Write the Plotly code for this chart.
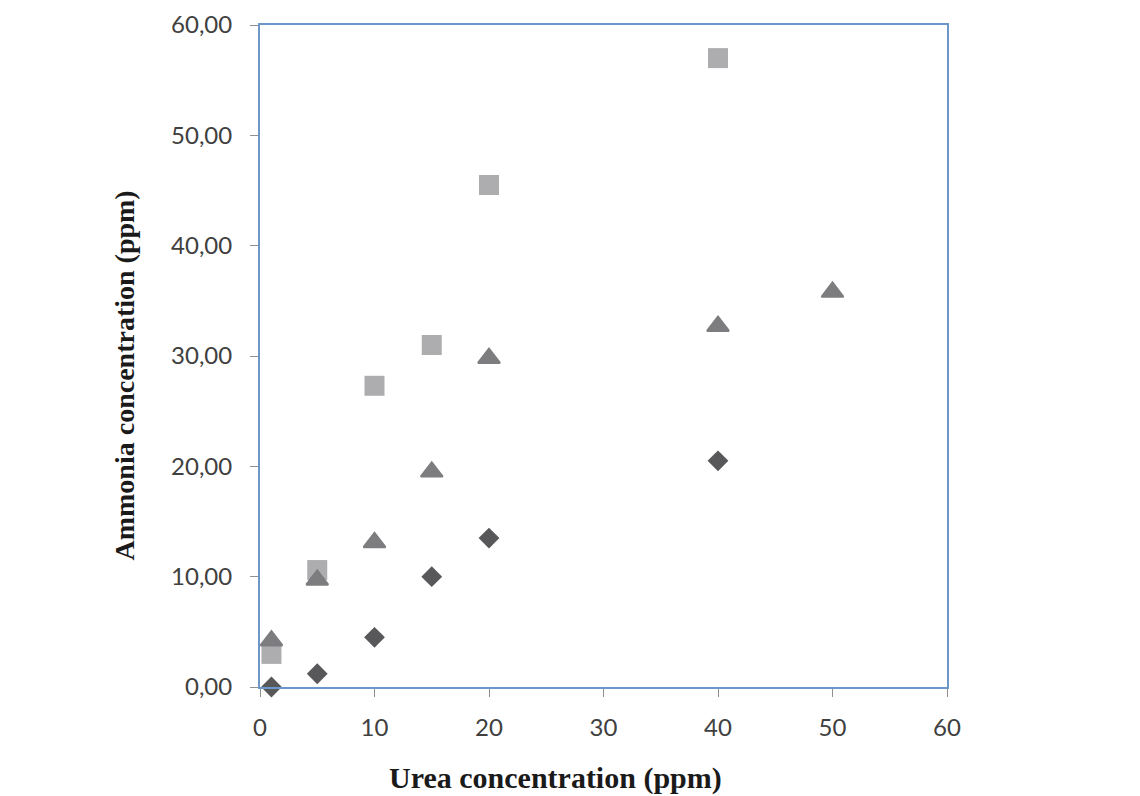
import plotly.graph_objects as go

urea_sq = [1, 5, 10, 15, 20, 40]
ammonia_sq = [3.0, 10.6, 27.3, 31.0, 45.5, 57.0]

urea_tri = [1, 5, 10, 15, 20, 40, 50]
ammonia_tri = [4.2, 9.7, 13.1, 19.5, 29.8, 32.7, 35.8]

urea_dia = [1, 5, 10, 15, 20, 40]
ammonia_dia = [0.0, 1.2, 4.5, 10.0, 13.5, 20.5]

x_ticks = [0, 10, 20, 30, 40, 50, 60]
x_ticklabels = ["0", "10", "20", "30", "40", "50", "60"]
y_ticks = [0, 10, 20, 30, 40, 50, 60]
y_ticklabels = ["0,00", "10,00", "20,00", "30,00", "40,00", "50,00", "60,00"]

x_title = "Urea concentration (ppm)"
y_title = "Ammonia concentration (ppm)"

fig = go.Figure()
fig.add_trace(go.Scatter(x=urea_sq, y=ammonia_sq, mode="markers", cliponaxis=False,
                         marker=dict(symbol="square", size=20, color="#adadb0")))
fig.add_trace(go.Scatter(x=urea_tri, y=ammonia_tri, mode="markers", cliponaxis=False,
                         marker=dict(symbol="triangle-up", size=19, color="#7d7d80",
                                     line=dict(width=2, color="#7d7d80"))))
fig.add_trace(go.Scatter(x=urea_dia, y=ammonia_dia, mode="markers", cliponaxis=False,
                         marker=dict(symbol="diamond", size=16, color="#58585a")))

axis_common = dict(
    showgrid=False, zeroline=False, showline=True, linecolor="#6b98c8", linewidth=2,
    mirror=True, ticks="outside", ticklen=8, tickcolor="#909090", tickwidth=1,
    automargin=False, ticklabeloverflow="allow",
    tickfont=dict(family="Lato, Open Sans, sans-serif", size=24, color="#404040"),
)

fig.update_layout(
    width=1132, height=790,
    margin=dict(l=252, r=193, t=17, b=111),
    paper_bgcolor="white", plot_bgcolor="white",
    showlegend=False,
    xaxis=dict(range=[0, 60], tickvals=x_ticks, ticktext=x_ticklabels,
               ticklabelstandoff=10, **axis_common),
    yaxis=dict(range=[0, 60], tickvals=y_ticks, ticktext=y_ticklabels,
               ticklabelstandoff=13, **axis_common),
    annotations=[
        dict(text="<b>" + x_title + "</b>", xref="paper", yref="paper",
             x=(555 - 8 - 252) / 687, y=-0.137, xanchor="center", yanchor="middle",
             showarrow=False,
             font=dict(family="Liberation Serif, serif", size=30, color="#1a1a1a")),
        dict(text="<b>" + y_title + "</b>", xref="paper", yref="paper",
             x=-0.197, y=0.47, xanchor="center", yanchor="middle", showarrow=False,
             textangle=-90,
             font=dict(family="Liberation Serif, serif", size=28, color="#1a1a1a")),
    ],
)

fig.write_html("out.html")
